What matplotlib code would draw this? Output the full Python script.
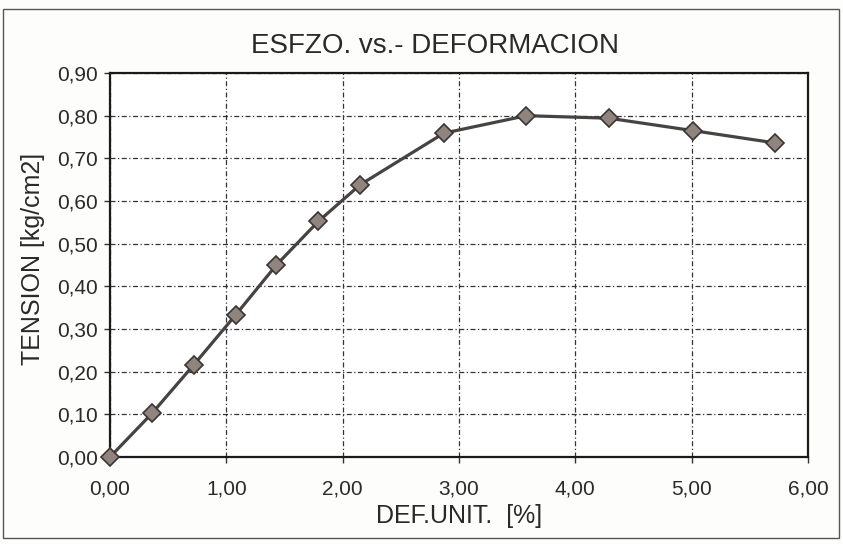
import matplotlib
matplotlib.use("Agg")
import matplotlib.pyplot as plt
from matplotlib.patches import Rectangle
from matplotlib.ticker import FuncFormatter

# Data
deformacion = [0.00, 0.36, 0.72, 1.08, 1.43, 1.79, 2.15, 2.87, 3.58, 4.29, 5.01, 5.72]
tension = [0.000, 0.102, 0.216, 0.333, 0.450, 0.552, 0.638, 0.759, 0.800, 0.794, 0.765, 0.736]

x_ticks = [0, 1, 2, 3, 4, 5, 6]
y_ticks = [0.0, 0.1, 0.2, 0.3, 0.4, 0.5, 0.6, 0.7, 0.8, 0.9]

title = "ESFZO. vs.- DEFORMACION"
xlabel = "DEF.UNIT.  [%]"
ylabel = "TENSION [kg/cm2]"

plt.rcParams['font.family'] = ['Liberation Sans', 'DejaVu Sans']

W, H = 843, 544
fig = plt.figure(figsize=(W / 100, H / 100), dpi=100)
fig.patch.set_facecolor("#fdfdfc")

ax = fig.add_axes([110 / W, 1 - 457 / H, 698 / W, 384 / H])
ax.set_facecolor("#ffffff")

ax.plot(deformacion, tension, color="#474343", lw=2.3, marker="D",
        markersize=9, markerfacecolor="#8f857e", markeredgecolor="#3a3533",
        markeredgewidth=1.2, zorder=3, clip_on=False)

ax.set_xlim(0, 6)
ax.set_ylim(0, 0.9)
ax.set_xticks(x_ticks)
ax.set_yticks(y_ticks)
fmt = FuncFormatter(lambda v, p: f"{v:.2f}".replace(".", ","))
ax.xaxis.set_major_formatter(fmt)
ax.yaxis.set_major_formatter(fmt)

ax.grid(True, color="#333333", linestyle=(0, (4, 2, 1, 2)), linewidth=0.9)
ax.set_axisbelow(True)
for s in ax.spines.values():
    s.set_color("#1a1a1a")
    s.set_linewidth(1.6)

ax.tick_params(axis="both", which="both", length=4, width=1, color="#333333",
               labelsize=15, labelcolor="#2a2a2a", pad=5)
ax.tick_params(axis="x", pad=12)

ax.set_xlabel(xlabel, fontsize=18, color="#2a2a2a", va="center")
ax.xaxis.set_label_coords(0.5, (457 - 516) / 384)
ax.set_ylabel(ylabel, fontsize=18, color="#2a2a2a", va="center")
ax.yaxis.set_label_coords((33 - 110) / 698, (457 - 259) / 384)
fig.text(435 / W, 1 - 46 / H, title, fontsize=20, color="#2a2a2a",
         ha="center", va="center")

# outer chart frame
fig.patches.append(Rectangle((3 / W, 6 / H), 836 / W, 1 - 15 / H,
                             transform=fig.transFigure, fill=False,
                             edgecolor="#555555", linewidth=1.0))

fig.savefig("out.png", dpi=100, facecolor=fig.get_facecolor())
